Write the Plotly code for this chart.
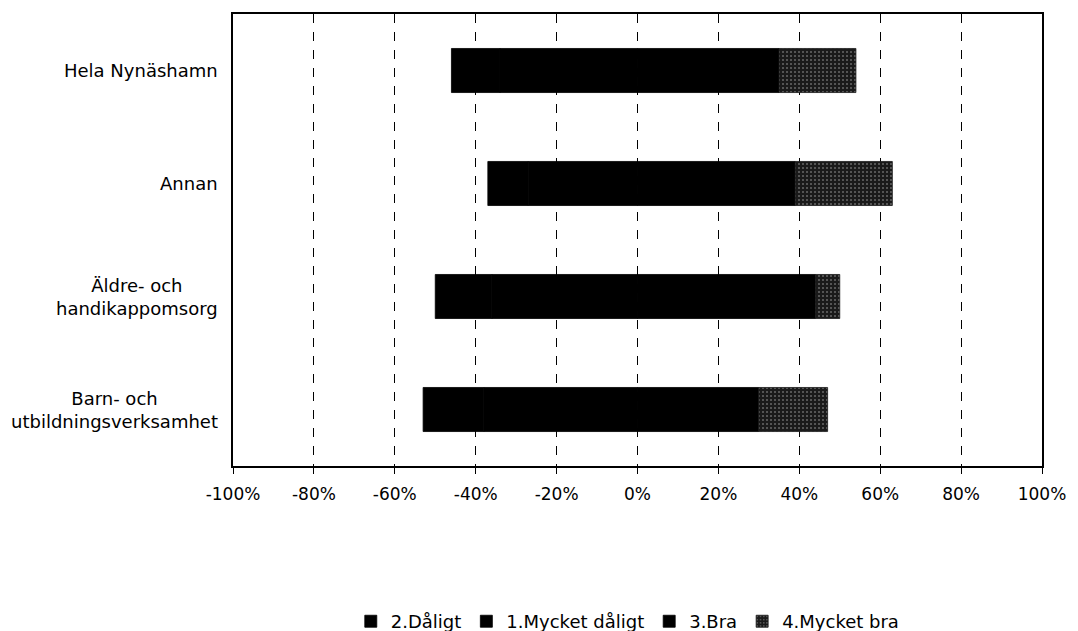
import plotly.graph_objects as go

categories = ["Hela Nynäshamn", "Annan", "Äldre- och<br>handikappomsorg",
              "Barn- och<br>utbildningsverksamhet"]

# Shares in percent; negative answers are drawn to the left of zero
daligt = [-34, -27, -36, -38]          # 2.Dåligt
mycket_daligt = [-12, -10, -14, -15]   # 1.Mycket dåligt
bra = [35, 39, 44, 30]                 # 3.Bra
mycket_bra = [19, 24, 6, 17]           # 4.Mycket bra

tick_vals = [-100, -80, -60, -40, -20, 0, 20, 40, 60, 80, 100]
tick_text = ["-100%", "-80%", "-60%", "-40%", "-20%", "0%", "20%", "40%",
             "60%", "80%", "100%"]

FONT = "DejaVu Sans, Liberation Sans, Arial, sans-serif"

series = [
    ("2.Dåligt", daligt, "#000000", None),
    ("1.Mycket dåligt", mycket_daligt, "#000000", None),
    ("3.Bra", bra, "#000000", None),
    ("4.Mycket bra", mycket_bra, "#1a1a1a",
     dict(shape=".", fgcolor="#b4b4b4", bgcolor="#1a1a1a", size=4, solidity=0.2)),
]

fig = go.Figure()
for name, vals, color, pattern in series:
    marker = dict(color=color, line=dict(width=0.8, color=color))
    if pattern:
        marker["pattern"] = pattern
    fig.add_trace(go.Bar(
        y=categories, x=vals, name=name, orientation="h",
        marker=marker, width=0.39,
    ))

# Category labels: right-aligned block, each line centred inside it
for cat in categories:
    fig.add_annotation(
        x=-0.016, xref="paper", y=cat, yref="y",
        text=cat, showarrow=False, xanchor="right", align="center",
        font=dict(family=FONT, size=18, color="black"),
    )

fig.update_layout(
    barmode="relative",
    width=1078, height=631,
    margin=dict(l=233, r=35, t=12, b=165),
    paper_bgcolor="white", plot_bgcolor="white",
    font=dict(family=FONT, size=17, color="black"),
    showlegend=True,
    legend=dict(orientation="h", x=0.488, xanchor="center",
                yref="container", y=0.015, yanchor="middle",
                font=dict(family=FONT, size=18), traceorder="normal", itemwidth=30),
    xaxis=dict(
        range=[-100, 100], tickvals=tick_vals, ticktext=tick_text,
        showgrid=True, gridcolor="black", griddash="dash", gridwidth=1,
        zeroline=False, showline=True, linecolor="black", linewidth=1.5,
        mirror=True, ticks="outside", ticklen=6, tickcolor="black",
        ticklabelstandoff=6, tickfont=dict(size=17),
    ),
    yaxis=dict(
        categoryorder="array", categoryarray=categories, autorange="reversed",
        showgrid=False, showline=True, linecolor="black", linewidth=1.5,
        mirror=True, ticks="", showticklabels=False,
    ),
)

fig.write_html("out.html")
